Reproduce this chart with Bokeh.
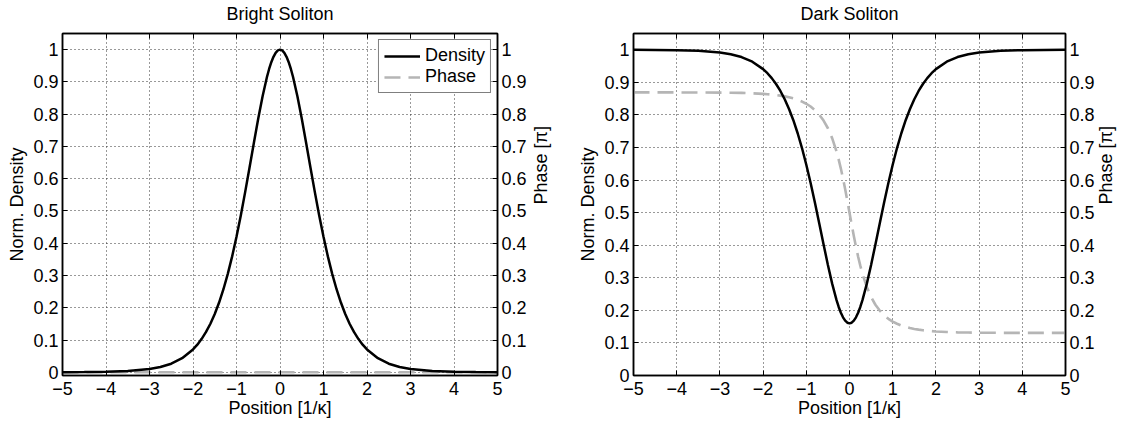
import math
from bokeh.plotting import figure
from bokeh.models import Range1d, LinearAxis, FixedTicker, Legend, LegendItem
from bokeh.layouts import row
from bokeh.embed import file_html
from bokeh.resources import INLINE

# ---- data ----
position = [-5, -4.5, -4, -3.5, -3, -2.75, -2.5, -2.25, -2,
            -1.9, -1.8, -1.7, -1.6, -1.5, -1.4, -1.3, -1.2, -1.1, -1,
            -0.9, -0.8, -0.7, -0.6, -0.5, -0.4, -0.3,
            -0.25, -0.2, -0.15, -0.1, -0.05,
            0,
            0.05, 0.1, 0.15, 0.2, 0.25,
            0.3, 0.4, 0.5, 0.6, 0.7, 0.8, 0.9,
            1, 1.1, 1.2, 1.3, 1.4, 1.5, 1.6, 1.7, 1.8, 1.9,
            2, 2.25, 2.5, 2.75, 3, 3.5, 4, 4.5, 5]

bright_density = [0.0002, 0.0005, 0.0013, 0.0036, 0.0099, 0.0162, 0.0266, 0.0435, 0.0707,
                  0.0856, 0.1036, 0.1250, 0.1505, 0.1807, 0.2162, 0.2574, 0.3050, 0.3592, 0.4200,
                  0.4869, 0.5591, 0.6347, 0.7116, 0.7864, 0.8556, 0.9151,
                  0.9400, 0.9610, 0.9778, 0.9901, 0.9975,
                  1.0,
                  0.9975, 0.9901, 0.9778, 0.9610, 0.9400,
                  0.9151, 0.8556, 0.7864, 0.7116, 0.6347, 0.5591, 0.4869,
                  0.4200, 0.3592, 0.3050, 0.2574, 0.2162, 0.1807, 0.1505, 0.1250, 0.1036, 0.0856,
                  0.0707, 0.0435, 0.0266, 0.0162, 0.0099, 0.0036, 0.0013, 0.0005, 0.0002]

bright_phase_pos = [-5, 5]
bright_phase = [0.0, 0.0]

dark_density = [0.9998, 0.9996, 0.9989, 0.9969, 0.9917, 0.9864, 0.9777, 0.9635, 0.9406,
                0.9281, 0.9130, 0.8950, 0.8736, 0.8482, 0.8184, 0.7838, 0.7438, 0.6983, 0.6472,
                0.5910, 0.5304, 0.4669, 0.4023, 0.3394, 0.2813, 0.2313,
                0.2104, 0.1928, 0.1786, 0.1683, 0.1621,
                0.16,
                0.1621, 0.1683, 0.1786, 0.1928, 0.2104,
                0.2313, 0.2813, 0.3394, 0.4023, 0.4669, 0.5304, 0.5910,
                0.6472, 0.6983, 0.7438, 0.7838, 0.8184, 0.8482, 0.8736, 0.8950, 0.9130, 0.9281,
                0.9406, 0.9635, 0.9777, 0.9864, 0.9917, 0.9969, 0.9989, 0.9996, 0.9998]

dark_phase = [0.8691, 0.8691, 0.8691, 0.8690, 0.8686, 0.8682, 0.8676, 0.8665, 0.8647,
              0.8637, 0.8625, 0.8611, 0.8592, 0.8570, 0.8542, 0.8508, 0.8466, 0.8411, 0.8344,
              0.8259, 0.8149, 0.8007, 0.7828, 0.7591, 0.7280, 0.6874,
              0.6628, 0.6353, 0.6047, 0.5715, 0.5363,
              0.5,
              0.4637, 0.4285, 0.3953, 0.3647, 0.3372,
              0.3126, 0.2720, 0.2409, 0.2172, 0.1993, 0.1851, 0.1741,
              0.1656, 0.1589, 0.1534, 0.1492, 0.1458, 0.1430, 0.1408, 0.1389, 0.1375, 0.1363,
              0.1353, 0.1335, 0.1324, 0.1318, 0.1314, 0.1310, 0.1309, 0.1309, 0.1309]

x_ticks = [-5, -4, -3, -2, -1, 0, 1, 2, 3, 4, 5]
x_tick_labels = ["\u22125", "\u22124", "\u22123", "\u22122", "\u22121", "0", "1", "2", "3", "4", "5"]
y_ticks = [0, 0.1, 0.2, 0.3, 0.4, 0.5, 0.6, 0.7, 0.8, 0.9, 1]
y_tick_labels = ["0", "0.1", "0.2", "0.3", "0.4", "0.5", "0.6", "0.7", "0.8", "0.9", "1"]

FONT = "Liberation Sans"
FS = "18px"
PHASE_COLOR = "#b5b5b5"
PHASE_DASH = "16 8"
YMAX = 1.05


def style_axis(ax, ticks, labels, standoff):
    ax.ticker = FixedTicker(ticks=ticks)
    ax.major_label_overrides = {t: l for t, l in zip(ticks, labels)}
    ax.major_label_text_font = FONT
    ax.major_label_text_font_size = FS
    ax.major_label_text_color = "black"
    ax.major_label_standoff = standoff
    ax.axis_label_text_font = FONT
    ax.axis_label_text_font_size = FS
    ax.axis_label_text_font_style = "normal"
    ax.axis_label_text_color = "black"
    ax.axis_line_color = "black"
    ax.axis_line_width = 1.5
    ax.major_tick_in = 5
    ax.major_tick_out = 0
    ax.major_tick_line_color = "black"
    ax.major_tick_line_width = 1
    ax.minor_tick_line_color = None


def make_plot(title, ymin, border_left, border_right, right_label_standoff):
    p = figure(width=565, height=424, x_range=Range1d(-5, 5), y_range=Range1d(ymin, YMAX),
               output_backend="svg", toolbar_location=None,
               min_border_left=border_left, min_border_right=border_right,
               min_border_top=33, min_border_bottom=49)
    p.outline_line_color = "black"
    p.outline_line_width = 1.5
    p.background_fill_color = "white"
    p.border_fill_color = "white"

    p.extra_y_ranges = {"phase": Range1d(ymin, YMAX)}

    xa = p.xaxis[0]
    style_axis(xa, x_ticks, x_tick_labels, 6)
    xa.axis_label = "Position [1/\u03ba]"
    xa.axis_label_standoff = 0

    ya = p.yaxis[0]
    style_axis(ya, y_ticks, y_tick_labels, 4)
    ya.axis_label = "Norm. Density"
    ya.axis_label_standoff = 3

    ra = LinearAxis(y_range_name="phase")
    style_axis(ra, y_ticks, y_tick_labels, 4)
    ra.axis_label = "Phase [\u03c0]"
    ra.axis_label_standoff = right_label_standoff
    ra.axis_label_orientation = math.pi / 2
    p.add_layout(ra, "right")

    # top axis: inward ticks only, its label serves as the panel title
    ta = LinearAxis()
    style_axis(ta, x_ticks, [""] * len(x_ticks), 0)
    ta.major_label_text_font_size = "0px"
    ta.axis_label = title
    ta.axis_label_standoff = 10
    p.add_layout(ta, "above")

    for g in (p.xgrid[0], p.ygrid[0]):
        g.grid_line_color = "#333333"
        g.grid_line_dash = "1 3"
        g.grid_line_width = 1
    p.xgrid[0].ticker = FixedTicker(ticks=x_ticks)
    p.ygrid[0].ticker = FixedTicker(ticks=y_ticks)
    return p


p1 = make_plot("Bright Soliton", -0.01, 62, 68, 11)
r_phase1 = p1.line(bright_phase_pos, bright_phase, y_range_name="phase",
                   line_color=PHASE_COLOR, line_width=2.6, line_dash=PHASE_DASH)
r_dens1 = p1.line(position, bright_density, line_color="black", line_width=2.5)
legend = Legend(items=[LegendItem(label="Density", renderers=[r_dens1]),
                       LegendItem(label="Phase", renderers=[r_phase1])],
                location="top_right")
legend.label_text_font = FONT
legend.label_text_font_size = FS
legend.label_text_color = "black"
legend.border_line_color = "black"
legend.border_line_width = 1.5
legend.background_fill_color = "white"
legend.background_fill_alpha = 1
legend.margin = 6
legend.padding = 5
legend.spacing = 0
legend.glyph_width = 36
legend.glyph_height = 20
legend.label_height = 20
legend.label_standoff = 5
p1.add_layout(legend)

p2 = make_plot("Dark Soliton", 0, 68, 65, 8)
p2.line(position, dark_phase, y_range_name="phase",
        line_color=PHASE_COLOR, line_width=2.6, line_dash=PHASE_DASH)
p2.line(position, dark_density, line_color="black", line_width=2.5)

layout = row(p1, p2)
open("out.html", "w").write(file_html(layout, INLINE))
